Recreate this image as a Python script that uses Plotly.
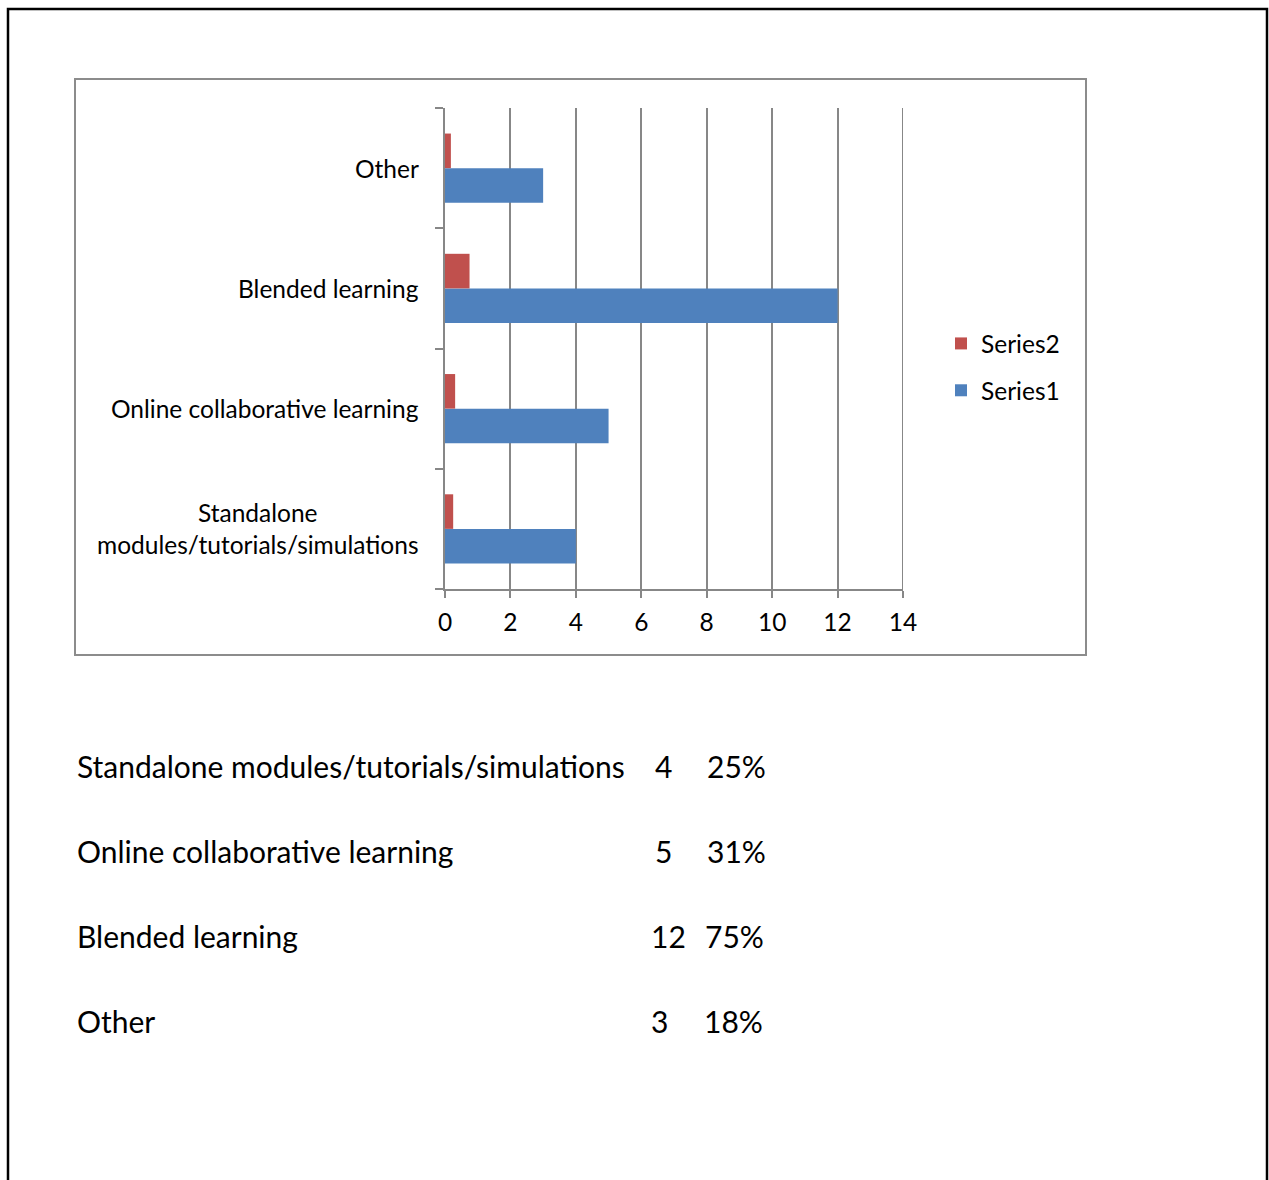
import plotly.graph_objects as go

# Survey categories (bottom to top on the chart) and values
categories = [
    "Standalone modules/tutorials/simulations",
    "Online collaborative learning",
    "Blended learning",
    "Other",
]
axis_labels = [
    "Standalone<br>modules/tutorials/simulations",
    "Online collaborative learning",
    "Blended learning",
    "Other",
]
series1 = [4, 5, 12, 3]            # counts
series2 = [0.25, 0.31, 0.75, 0.18]  # share of respondents
x_ticks = [0, 2, 4, 6, 8, 10, 12, 14]

W, H = 1269, 1180
# plot area in pixels
PL, PR, PT, PB = 445, 903, 108, 589
FONT = "Lato"
BLUE = "#4F81BD"
RED = "#C0504D"
GRID = "#878787"


def px_x(x):
    return (x - PL) / (PR - PL)


def px_y(y):
    return (PB - y) / (PB - PT)


fig = go.Figure()
fig.add_trace(go.Bar(
    y=categories, x=series1, orientation="h", name="Series1",
    marker=dict(color=BLUE, line=dict(width=0)),
    legendgroup="s1", legendrank=2,
))
fig.add_trace(go.Bar(
    y=categories, x=series2, orientation="h", name="Series2",
    marker=dict(color=RED, line=dict(width=0)),
    legendgroup="s2", legendrank=1,
))

# category labels drawn centred beside each band
for cat, lab in zip(categories, axis_labels):
    fig.add_annotation(
        x=0, xref="paper", y=cat, yref="y", text=lab, showarrow=False,
        xanchor="right", yanchor="middle", align="center", xshift=-24,
        font=dict(family=FONT, size=24.5, color="black"),
    )

# summary table below the chart
row_y = [766, 851, 936, 1021]
num_x = [653, 653, 649, 649]
pct_x = [705, 705, 703, 702]
for cat, n, p, ry, nx, qx in zip(categories, series1, series2, row_y, num_x, pct_x):
    f = dict(family=FONT, size=30, color="black")
    fig.add_annotation(x=px_x(75), y=px_y(ry), xref="paper", yref="paper",
                       text=cat, showarrow=False, xanchor="left",
                       yanchor="middle", font=f)
    fig.add_annotation(x=px_x(nx), y=px_y(ry), xref="paper", yref="paper",
                       text=str(n), showarrow=False, xanchor="left",
                       yanchor="middle", font=f)
    fig.add_annotation(x=px_x(qx), y=px_y(ry), xref="paper", yref="paper",
                       text=f"{round(p * 100)}%", showarrow=False,
                       xanchor="left", yanchor="middle", font=f)

# gridline at the right end of the value axis
fig.add_shape(type="line", xref="x", yref="paper",
              x0=x_ticks[-1], x1=x_ticks[-1], y0=0, y1=1,
              line=dict(color=GRID, width=2), layer="below")

# chart frame and outer page border
fig.add_shape(type="rect", xref="paper", yref="paper",
              x0=px_x(75), x1=px_x(1086), y0=px_y(655), y1=px_y(79),
              line=dict(color="#8c8c8c", width=2), layer="below")
fig.add_shape(type="rect", xref="paper", yref="paper",
              x0=px_x(8), x1=px_x(1267), y0=px_y(1200), y1=px_y(9),
              line=dict(color="black", width=2.5), layer="below")

fig.update_layout(
    width=W, height=H,
    margin=dict(l=PL, r=W - PR, t=PT, b=H - PB, pad=0),
    paper_bgcolor="white", plot_bgcolor="white",
    barmode="group", bargap=0.425, bargroupgap=0,
    font=dict(family=FONT, size=24.5, color="black"),
    showlegend=True,
    legend=dict(
        x=px_x(941), y=px_y(321), xanchor="left", yanchor="top",
        traceorder="grouped", tracegroupgap=12,
        font=dict(family=FONT, size=24.5, color="black"),
        bgcolor="rgba(0,0,0,0)", itemwidth=30,
    ),
)
fig.update_xaxes(
    range=[0, 14], tickvals=x_ticks, ticktext=[str(v) for v in x_ticks],
    showgrid=True, gridcolor=GRID, gridwidth=2,
    showline=True, linecolor=GRID, linewidth=2,
    ticks="outside", ticklen=7, tickcolor=GRID, tickwidth=2,
    ticklabelstandoff=4, zeroline=False,
    tickfont=dict(family=FONT, size=24.5, color="black"),
)
fig.update_yaxes(
    categoryorder="array", categoryarray=categories,
    showticklabels=False, showgrid=False, zeroline=False,
    showline=True, linecolor=GRID, linewidth=2,
    ticks="outside", ticklen=8, tickcolor=GRID, tickwidth=2,
    tickson="boundaries",
)

fig.write_html("out.html")
